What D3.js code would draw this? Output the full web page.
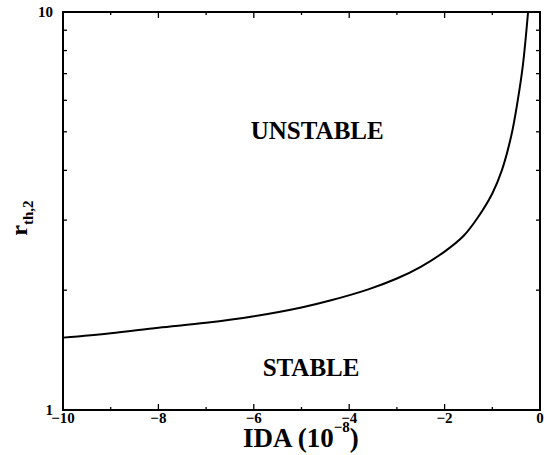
<!DOCTYPE html>
<html>
<head>
<meta charset="utf-8">
<script src="https://cdn.jsdelivr.net/npm/d3@7.9.0/dist/d3.min.js"></script>
<style>
  body { margin: 0; background: #fff; }
  text { font-family: "Liberation Serif", "Times New Roman", serif; font-weight: bold; fill: #000; }
</style>
</head>
<body>
<div id="chart"></div>
<script>
// Data
const idaValues = [-10, -9, -8, -7, -6, -5, -4.4, -3.6, -3, -2.5, -2, -1.6, -1.3, -1.0, -0.8, -0.6, -0.47, -0.36, -0.25];
const rValues   = [1.52, 1.56, 1.61, 1.656, 1.72, 1.81, 1.884, 2.01, 2.14, 2.29, 2.50, 2.74, 3.05, 3.50, 4.00, 4.90, 5.96, 7.33, 10];
const xMajorTicks = [-10, -8, -6, -4, -2, 0];
const xMinorTicks = [-9, -7, -5, -3, -1];
const yMajorTicks = [1, 10];
const yMinorTicks = [2, 3, 4, 5, 6, 7, 8, 9];
const regionLabels = [
    {text: "UNSTABLE", x: -4.67, y: 4.79},
    {text: "STABLE", x: -4.8, y: 1.22}
];

// Setup dimensions
const margin = {top: 12, right: 7, bottom: 45, left: 63};
const width = 547 - margin.left - margin.right;
const height = 455 - margin.top - margin.bottom;

const svg = d3.select("#chart")
    .append("svg")
    .attr("width", width + margin.left + margin.right)
    .attr("height", height + margin.top + margin.bottom)
    .append("g")
    .attr("transform", `translate(${margin.left},${margin.top})`);

// Scales
const x = d3.scaleLinear().domain([-10, 0]).range([0, width]);
const y = d3.scaleLog().domain([1, 10]).range([height, 0]);

// Ticks on all four sides, pointing inward
function addTicks(ticks, len) {
    ticks.forEach(t => {
        svg.append("line").attr("x1", x(t)).attr("x2", x(t))
            .attr("y1", height).attr("y2", height - len)
            .attr("stroke", "#000").attr("stroke-width", 1.3);
        svg.append("line").attr("x1", x(t)).attr("x2", x(t))
            .attr("y1", 0).attr("y2", len)
            .attr("stroke", "#000").attr("stroke-width", 1.3);
    });
}
addTicks(xMajorTicks, 6);
addTicks(xMinorTicks, 3);

yMinorTicks.forEach(t => {
    svg.append("line").attr("x1", 0).attr("x2", 4)
        .attr("y1", y(t)).attr("y2", y(t))
        .attr("stroke", "#000").attr("stroke-width", 1.3);
    svg.append("line").attr("x1", width).attr("x2", width - 4)
        .attr("y1", y(t)).attr("y2", y(t))
        .attr("stroke", "#000").attr("stroke-width", 1.3);
});

// Frame
svg.append("rect")
    .attr("x", 0).attr("y", 0)
    .attr("width", width).attr("height", height)
    .attr("fill", "none")
    .attr("stroke", "#000")
    .attr("stroke-width", 2);

// Tick labels
svg.selectAll(".xlab")
    .data(xMajorTicks)
    .join("text")
    .attr("class", "xlab")
    .attr("x", d => x(d))
    .attr("y", height + 13)
    .attr("text-anchor", "middle")
    .style("font-size", "15px")
    .text(d => d < 0 ? "\u2212" + Math.abs(d) : d);

svg.selectAll(".ylab")
    .data(yMajorTicks)
    .join("text")
    .attr("class", "ylab")
    .attr("x", -10)
    .attr("y", d => y(d) + 5)
    .attr("text-anchor", "end")
    .style("font-size", "15px")
    .text(d => d);

// Axis titles
const xTitle = svg.append("text")
    .attr("x", 180)
    .attr("y", height + 37)
    .style("font-size", "27px");
xTitle.append("tspan").text("IDA (10");
xTitle.append("tspan").attr("dy", -15).style("font-size", "15px").text("\u22128");
xTitle.append("tspan").attr("dy", 15).text(")");

const yTitle = svg.append("text")
    .attr("transform", `translate(${27 - margin.left},${218 - margin.top}) rotate(-90)`)
    .attr("text-anchor", "middle")
    .style("font-size", "24px");
yTitle.append("tspan").text("r");
yTitle.append("tspan").attr("dy", 6).style("font-size", "15px").text("th,2");

// Curve
const curveData = idaValues.map((v, i) => ({ida: v, r: rValues[i]}));
const line = d3.line()
    .x(d => x(d.ida))
    .y(d => y(d.r))
    .curve(d3.curveCatmullRom.alpha(0.5));

svg.append("path")
    .datum(curveData)
    .attr("fill", "none")
    .attr("stroke", "#000")
    .attr("stroke-width", 2)
    .attr("d", line);

// Region labels
svg.selectAll(".region")
    .data(regionLabels)
    .join("text")
    .attr("class", "region")
    .attr("x", d => x(d.x))
    .attr("y", d => y(d.y))
    .attr("text-anchor", "middle")
    .style("font-size", "25px")
    .text(d => d.text);
</script>
</body>
</html>
